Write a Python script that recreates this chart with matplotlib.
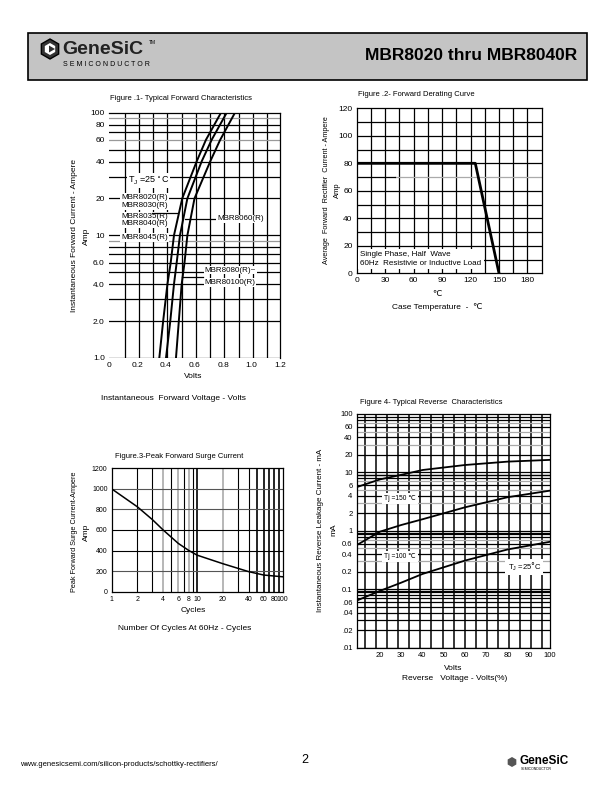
import numpy as np
import matplotlib
matplotlib.use("Agg")
import matplotlib.pyplot as plt
from matplotlib.patches import Rectangle, RegularPolygon

plt.rcParams['font.family'] = ['Liberation Sans', 'DejaVu Sans']

W, H = 612, 792

# Figure 1 - typical forward characteristics (current in A, voltage in V)
fwd_current = [1, 2, 4, 6, 10, 20, 40, 60, 100]
fwd_v_8020_8045 = [0.353, 0.38, 0.41, 0.433, 0.456, 0.514, 0.615, 0.68, 0.786]
fwd_v_8060 = [0.40, 0.43, 0.456, 0.475, 0.498, 0.55, 0.65, 0.72, 0.826]
fwd_v_8080_80100 = [0.47, 0.49, 0.51, 0.53, 0.55, 0.60, 0.71, 0.78, 0.884]

# Figure 2 - forward derating curve
derate_temp = [0, 125, 150]
derate_current = [80, 80, 0]

# Figure 3 - peak forward surge current
surge_cycles = [1, 2, 3, 4, 6, 8, 10, 20, 40, 60, 100]
surge_current = [1000, 825, 700, 600, 470, 400, 355, 272, 195, 162, 145]

# Figure 4 - typical reverse characteristics (mA vs % of rated voltage)
rev_volts = [9, 20, 30, 40, 60, 80, 100]
rev_150 = [5.6, 7.6, 9.1, 11.0, 13.4, 15.3, 16.4]
rev_100 = [0.57, 0.97, 1.26, 1.58, 2.53, 3.76, 4.88]
rev_25 = [0.064, 0.094, 0.13, 0.183, 0.31, 0.48, 0.65]


def rect(l, t, r, b):
    return [l / W, 1 - b / H, (r - l) / W, (b - t) / H]


def clean(ax):
    ax.tick_params(length=0, labelsize=6, pad=3)
    for s in ax.spines.values():
        s.set_linewidth(0.9)
        s.set_color('black')


fig = plt.figure(figsize=(6.12, 7.92), dpi=100)

page = fig.add_axes([0, 0, 1, 1], zorder=0)
page.set_xlim(0, W)
page.set_ylim(H, 0)
page.axis('off')

# header
page.add_patch(Rectangle((28, 33), 559, 47, facecolor='#c4c4c4',
                         edgecolor='black', lw=1.2))
page.add_patch(RegularPolygon((50, 49), 6, radius=10, facecolor='#333333',
                              edgecolor='black'))
page.add_patch(RegularPolygon((50, 49), 6, radius=6, facecolor='white',
                              edgecolor='none'))
page.add_patch(RegularPolygon((51, 49), 3, radius=4, orientation=-np.pi / 2,
                              facecolor='#333333'))
page.text(62, 50, 'GeneSiC', fontsize=14, fontweight='bold', va='center',
          color='#222222')
page.text(149, 43, 'TM', fontsize=3.5, va='center')
page.text(63, 64, 'S E M I C O N D U C T O R', fontsize=5, va='center')
page.text(577, 56, 'MBR8020 thru MBR8040R', fontsize=12.5, fontweight='bold',
          ha='right', va='center')

# footer
page.text(20, 764, 'www.genesicsemi.com/silicon-products/schottky-rectifiers/',
          fontsize=5.5, va='center')
page.text(305, 760, '2', fontsize=9, ha='center', va='center')
page.add_patch(RegularPolygon((512, 762), 6, radius=5, facecolor='#555555'))
page.text(519, 761, 'GeneSiC', fontsize=8.5, fontweight='bold', va='center')
page.text(521, 769, 'SEMICONDUCTOR', fontsize=2.5, va='center')

# ---------------- Figure 1 ----------------
ax1 = fig.add_axes(rect(109, 112.7, 280, 358), zorder=2)
ax1.set_yscale('log')
ax1.set_xlim(0, 1.2)
ax1.set_ylim(1, 100)
for v in np.arange(0.11, 1.2, 0.1):
    ax1.axvline(v, color='black', lw=0.9, zorder=1)
for d in (1, 10):
    for m in range(1, 10):
        val = d * m
        if val in (9, 60, 90):
            ax1.axhline(val, color='#999999', lw=0.9, zorder=1)
        else:
            ax1.axhline(val, color='black', lw=0.9, zorder=1)
for xs in (fwd_v_8020_8045, fwd_v_8060, fwd_v_8080_80100):
    ax1.plot(xs, fwd_current, color='black', lw=1.4, zorder=4)
ax1.set_xticks([0, 0.2, 0.4, 0.6, 0.8, 1.0, 1.2])
ax1.set_xticklabels(['0', '0.2', '0.4', '0.6', '0.8', '1.0', '1.2'])
ax1.set_yticks([1, 2, 4, 6, 10, 20, 40, 60, 80, 100])
ax1.set_yticklabels(['1.0', '2.0', '4.0', '6.0', '10', '20', '40', '60', '80', '100'])
ax1.minorticks_off()
clean(ax1)
for s in ('left', 'bottom'):
    ax1.spines[s].set_visible(False)
box = dict(facecolor='white', edgecolor='none', pad=0.6)
ax1.text(0.13, 28, r'T$_\mathregular{J}$ =25$^\circ$C', fontsize=6.5, va='center',
         bbox=box, zorder=5)
for lab, yv in (('MBR8020(R)', 20.5), ('MBR8030(R)', 17.6), ('MBR8035(R)', 14.3),
                ('MBR8040(R)', 12.4), ('MBR8045(R)', 9.6)):
    ax1.text(0.085, yv, lab, fontsize=5.8, va='center', bbox=box, zorder=5)
ax1.plot([0.30, 0.48], [15.3, 15.3], color='black', lw=0.9, zorder=5)
ax1.plot([0.53, 0.75], [13.6, 13.6], color='black', lw=0.9, zorder=5)
ax1.text(0.76, 13.6, 'MBR8060(R)', fontsize=5.8, va='center', bbox=box, zorder=5)
ax1.plot([0.51, 0.66], [4.6, 4.6], color='black', lw=0.9, zorder=5)
ax1.text(0.67, 5.2, 'MBR8080(R)~', fontsize=5.8, va='center', bbox=box, zorder=5)
ax1.text(0.67, 4.15, 'MBR80100(R)', fontsize=5.8, va='center', bbox=box, zorder=5)
page.text(110, 98, 'Figure .1- Typical Forward Characteristics', fontsize=5.5,
          va='center')
page.text(75, 236, 'Instantaneous Forward Current - Ampere', fontsize=6,
          rotation=90, ha='center', va='center')
page.text(86, 236, 'Amp', fontsize=6, rotation=90, ha='center', va='center')
page.text(193, 377, 'Volts', fontsize=6, ha='center', va='center')
page.text(173, 399, 'Instantaneous  Forward Voltage - Volts', fontsize=6,
          ha='center', va='center')

# ---------------- Figure 2 ----------------
ax2 = fig.add_axes(rect(356.7, 108.3, 541.7, 273.3), zorder=2)
ax2.set_xlim(0, 195)
ax2.set_ylim(0, 120)
for v in np.arange(15, 195, 15):
    ax2.axvline(v, color='black', lw=0.9, zorder=1)
for v in np.arange(10, 120, 10):
    if v == 70:
        ax2.plot([40, 195], [70, 70], color='#aaaaaa', lw=0.9, zorder=1)
        ax2.plot([0, 40], [70, 70], color='black', lw=0.9, zorder=1)
    else:
        ax2.axhline(v, color='black', lw=0.9, zorder=1)
ax2.plot(derate_temp, derate_current, color='black', lw=2, zorder=4)
ax2.set_xticks([0, 30, 60, 90, 120, 150, 180])
ax2.set_yticks([0, 20, 40, 60, 80, 100, 120])
clean(ax2)
ax2.text(4, 10.5, 'Single Phase, Half  Wave\n60Hz  Resistivie or Inductive Load',
         fontsize=5.8, va='center', linespacing=1.4, zorder=5,
         bbox=dict(facecolor='white', edgecolor='none', pad=1.5))
page.text(358, 95, 'Figure .2- Forward Derating Curve', fontsize=5.5, va='center')
page.text(327, 190, 'Average  Forward  Rectifier  Current - Ampere', fontsize=5.2,
          rotation=90, ha='center', va='center')
page.text(337, 190, 'Amp', fontsize=5.5, rotation=90, ha='center', va='center')
page.text(437, 295, '\u2103', fontsize=6, ha='center', va='center')
page.text(437, 307, 'Case Temperature  -  \u2103', fontsize=6, ha='center',
          va='center')

# ---------------- Figure 3 ----------------
ax3 = fig.add_axes(rect(111.7, 468.3, 282.7, 591.7), zorder=2)
ax3.set_xscale('log')
ax3.set_xlim(1, 100)
ax3.set_ylim(0, 1200)
for d in (1, 10):
    for m in range(2, 10):
        val = d * m
        if val in (4, 6, 8, 20):
            ax3.axvline(val, color='#aaaaaa', lw=1.2, zorder=1)
        elif val >= 10 and val != 30 and val != 40:
            ax3.axvline(val, color='black', lw=1.2, zorder=1)
        else:
            ax3.axvline(val, color='black', lw=0.8, zorder=1)
ax3.axvline(10, color='black', lw=1.2, zorder=1)
for v in (200, 400, 600, 800, 1000):
    ax3.axhline(v, color='#555555' if v in (1000, 800, 200) else 'black',
                lw=0.8, zorder=1)
ax3.plot(surge_cycles, surge_current, color='black', lw=1.1, zorder=4)
ax3.set_xticks([1, 2, 4, 6, 8, 10, 20, 40, 60, 80, 100])
ax3.set_xticklabels(['1', '2', '4', '6', '8', '10', '20', '40', '60', '80', '100'])
ax3.minorticks_off()
ax3.set_yticks([0, 200, 400, 600, 800, 1000, 1200])
clean(ax3)
ax3.tick_params(labelsize=5)
page.text(115, 457, 'Figure.3-Peak Forward Surge Current', fontsize=5.5, va='center')
page.text(75, 532, 'Peak Forward Surge Current-Ampere', fontsize=5.2,
          rotation=90, ha='center', va='center')
page.text(86, 532, 'Amp', fontsize=6, rotation=90, ha='center', va='center')
page.text(193, 610, 'Cycles', fontsize=6, ha='center', va='center')
page.text(185, 628, 'Number Of Cycles At 60Hz - Cycles', fontsize=6,
          ha='center', va='center')

# ---------------- Figure 4 ----------------
ax4 = fig.add_axes(rect(356.7, 414, 550, 647.7), zorder=2)
ax4.set_yscale('log')
ax4.set_xlim(9, 100)
ax4.set_ylim(0.01, 100)
for v in np.arange(13, 100, 5.2):
    ax4.axvline(v, color='black', lw=1.1, zorder=1)
for d in (0.01, 0.1, 1, 10):
    for m in range(1, 10):
        val = d * m
        col = '#aaaaaa' if m in (3, 5, 7) and d != 0.01 else 'black'
        ax4.axhline(val, color=col, lw=0.9, zorder=1)
    ax4.axhline(d * 0.92, color='black', lw=0.9, zorder=1)
for ys in (rev_150, rev_100, rev_25):
    ax4.plot(rev_volts, ys, color='black', lw=1.3, zorder=4)
ax4.set_xticks([20, 30, 40, 50, 60, 70, 80, 90, 100])
y4 = [100, 60, 40, 20, 10, 6, 4, 2, 1, 0.6, 0.4, 0.2, 0.1, 0.06, 0.04, 0.02, 0.01]
ax4.set_yticks(y4)
ax4.set_yticklabels(['100', '60', '40', '20', '10', '6', '4', '2', '1', '0.6',
                     '0.4', '0.2', '0.1', '.06', '.04', '.02', '.01'])
ax4.minorticks_off()
clean(ax4)
ax4.tick_params(labelsize=5.5)
box4 = dict(facecolor='white', edgecolor='none', pad=1.5)
ax4.text(22, 3.6, 'Tj =150 \u2103', fontsize=4.8, va='center', bbox=box4, zorder=5)
ax4.text(22, 0.36, 'Tj =100 \u2103', fontsize=4.8, va='center', bbox=box4, zorder=5)
ax4.text(80, 0.24, r'T$_\mathregular{J}$ =25$\degree$C', fontsize=5.5, va='center',
         bbox=box4, zorder=5)
page.text(360, 402, 'Figure 4- Typical Reverse  Characteristics', fontsize=5.5,
          va='center')
page.text(320, 530, 'Instantaneous Reverse Leakage Current - mA', fontsize=5.8,
          rotation=90, ha='center', va='center')
page.text(334, 530, 'mA', fontsize=6, rotation=90, ha='center', va='center')
page.text(453, 668, 'Volts', fontsize=6, ha='center', va='center')
page.text(455, 679, 'Reverse   Voltage - Volts(%)', fontsize=6, ha='center',
          va='center')

fig.savefig('out.png', dpi=100)
